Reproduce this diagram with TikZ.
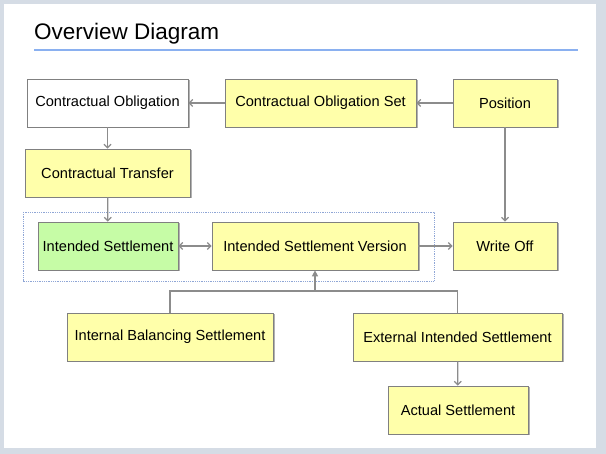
\documentclass[tikz,border=0pt]{standalone}
\usepackage{fontspec}
\setmainfont{Liberation Sans}
\usepackage{tikz}
\usetikzlibrary{arrows.meta}
\usetikzlibrary{calc}
\usetikzlibrary{shadows}
\definecolor{framegray}{HTML}{D5DCE5}
\definecolor{boxyellow}{HTML}{FFFFAA}
\definecolor{boxgreen}{HTML}{C6FCA6}
\definecolor{boxedge}{HTML}{808080}
\definecolor{linkgray}{HTML}{8C8C8C}
\definecolor{titleblue}{HTML}{8AB0F0}
\definecolor{groupblue}{HTML}{8FA6D6}

\begin{document}
\begin{tikzpicture}[x=1pt, y=-1pt,
        entity/.style={draw=boxedge, fill=boxyellow, line width=0.8pt, minimum height=48pt,
            inner sep=0pt, font=\fontsize{14.6}{17}\selectfont,
            drop shadow={shadow xshift=1.5pt, shadow yshift=-1.5pt, opacity=0.3, fill=black}},
        link/.style={draw=linkgray, line width=1.2pt, -{Straight Barb[length=3.5pt, width=7pt]}}]
        \useasboundingbox (0,0) rectangle (606,454);
        \fill[framegray] (0,0) rectangle (606,454);
        \fill[white] (4,4) rectangle (596,448);
        % title
        \node[anchor=base west, font=\fontsize{22.5}{26}\selectfont, inner sep=0] (title) at (34,40) {Overview Diagram};
        \draw[titleblue, line width=1.5pt] (34,50) -- (578,50);
        % group of the intended settlement
        \draw[groupblue, densely dotted, line width=0.8pt] (23,212) rectangle (434,281);
        % entities
        \node[entity, fill=white, minimum width=161pt] (CO) at (107.5,103) {Contractual Obligation};
        \node[entity, minimum width=191pt] (COS) at (320.5,103) {Contractual Obligation Set};
        \node[entity, minimum width=104pt] (Pos) at (505,103) {Position};
        \node[entity, minimum width=165pt] (CT) at (107.5,173) {Contractual Transfer};
        \node[entity, fill=boxgreen, minimum width=140pt] (IS) at (108,246) {Intended Settlement};
        \node[entity, minimum width=206pt] (ISV) at (315,246) {Intended Settlement Version};
        \node[entity, minimum width=104pt] (WO) at (505,246) {Write Off};
        \node[entity, minimum width=206pt] (IBS) at (170,337) {Internal Balancing Settlement};
        \node[entity, minimum width=209pt] (EIS) at (457.5,337) {External Intended Settlement};
        \node[entity, minimum width=140pt] (AS) at (458,410) {Actual Settlement};
        \coordinate (join) at (315,291);
        % connectors
        \draw[link] (COS) -- (CO);
        \draw[link] (Pos) -- (COS);
        \draw[link] (CO) -- (CT);
        \draw[link] (CT) -- (IS);
        \draw[link, {Straight Barb[length=3.5pt, width=7pt]}-{Straight Barb[length=3.5pt, width=7pt]}] (IS) -- (ISV);
        \draw[link] (ISV) -- (WO);
        \draw[link] (Pos) -- (WO);
        \draw[link] (EIS) -- (AS);
        \draw[linkgray, line width=1.2pt] (IBS.north) |- (join) -| (EIS.north);
        \draw[linkgray, line width=2pt, -{Triangle[length=6pt, width=6pt]}] (join) -- (ISV.south);
    \end{tikzpicture}
\end{document}
